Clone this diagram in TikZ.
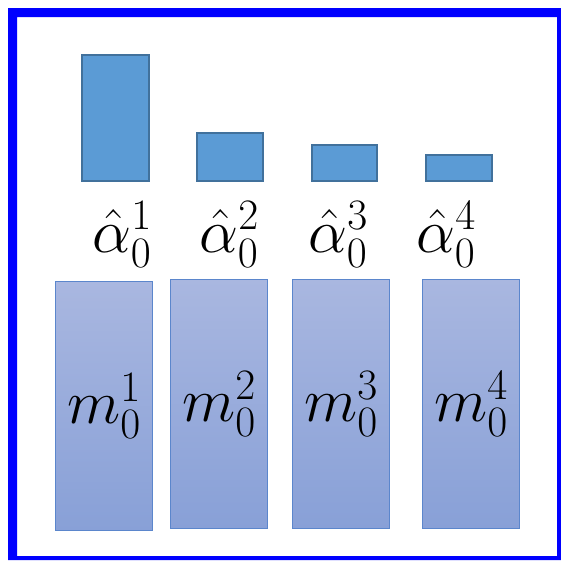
\RequirePackage{fix-cm}
\documentclass[tikz,border=0pt]{standalone}
\definecolor{frameblue}{RGB}{0,0,255}
\definecolor{barfill}{RGB}{91,155,213}
\definecolor{barline}{RGB}{65,113,156}
\definecolor{mtop}{RGB}{169,183,224}
\definecolor{mbot}{RGB}{136,160,215}
\definecolor{mline}{RGB}{91,134,204}
\begin{document}
\begin{tikzpicture}[x=1pt,y=-1pt,
  topbar/.style={draw=barline,line width=2pt,fill=barfill,inner sep=0pt,anchor=north west},
  mbar/.style={draw=mline,line width=1pt,top color=mtop,bottom color=mbot,inner sep=0pt,anchor=north west,
    minimum width=97pt,minimum height=249pt,font=\fontsize{62}{66}\selectfont},
  alab/.style={anchor=base,inner sep=0pt,font=\fontsize{62}{66}\selectfont}]
\useasboundingbox (0,0) rectangle (561,560);
\fill[frameblue,even odd rule] (8,8) rectangle (561,560) (17,17) rectangle (557,556);
% top bars
\node[topbar,minimum width=67pt,minimum height=126pt] (a1) at (81,54) {};
\node[topbar,minimum width=66pt,minimum height=48pt] (a2) at (196,132) {};
\node[topbar,minimum width=65pt,minimum height=36pt] (a3) at (311,144) {};
\node[topbar,minimum width=66pt,minimum height=26pt] (a4) at (425,154) {};
% alpha labels
\node[alab] (l1) at (122,252) {$\hat{\alpha}_0^1$};
\node[alab] (l2) at (229,252) {$\hat{\alpha}_0^2$};
\node[alab] (l3) at (338,252) {$\hat{\alpha}_0^3$};
\node[alab] (l4) at (446,252) {$\hat{\alpha}_0^4$};
% bottom bars
\node[mbar] (m1) at (55,281) {$m_0^1$};
\node[mbar] (m2) at (170,279) {$m_0^2$};
\node[mbar] (m3) at (292,279) {$m_0^3$};
\node[mbar] (m4) at (422,279) {$m_0^4$};
\end{tikzpicture}
\end{document}
